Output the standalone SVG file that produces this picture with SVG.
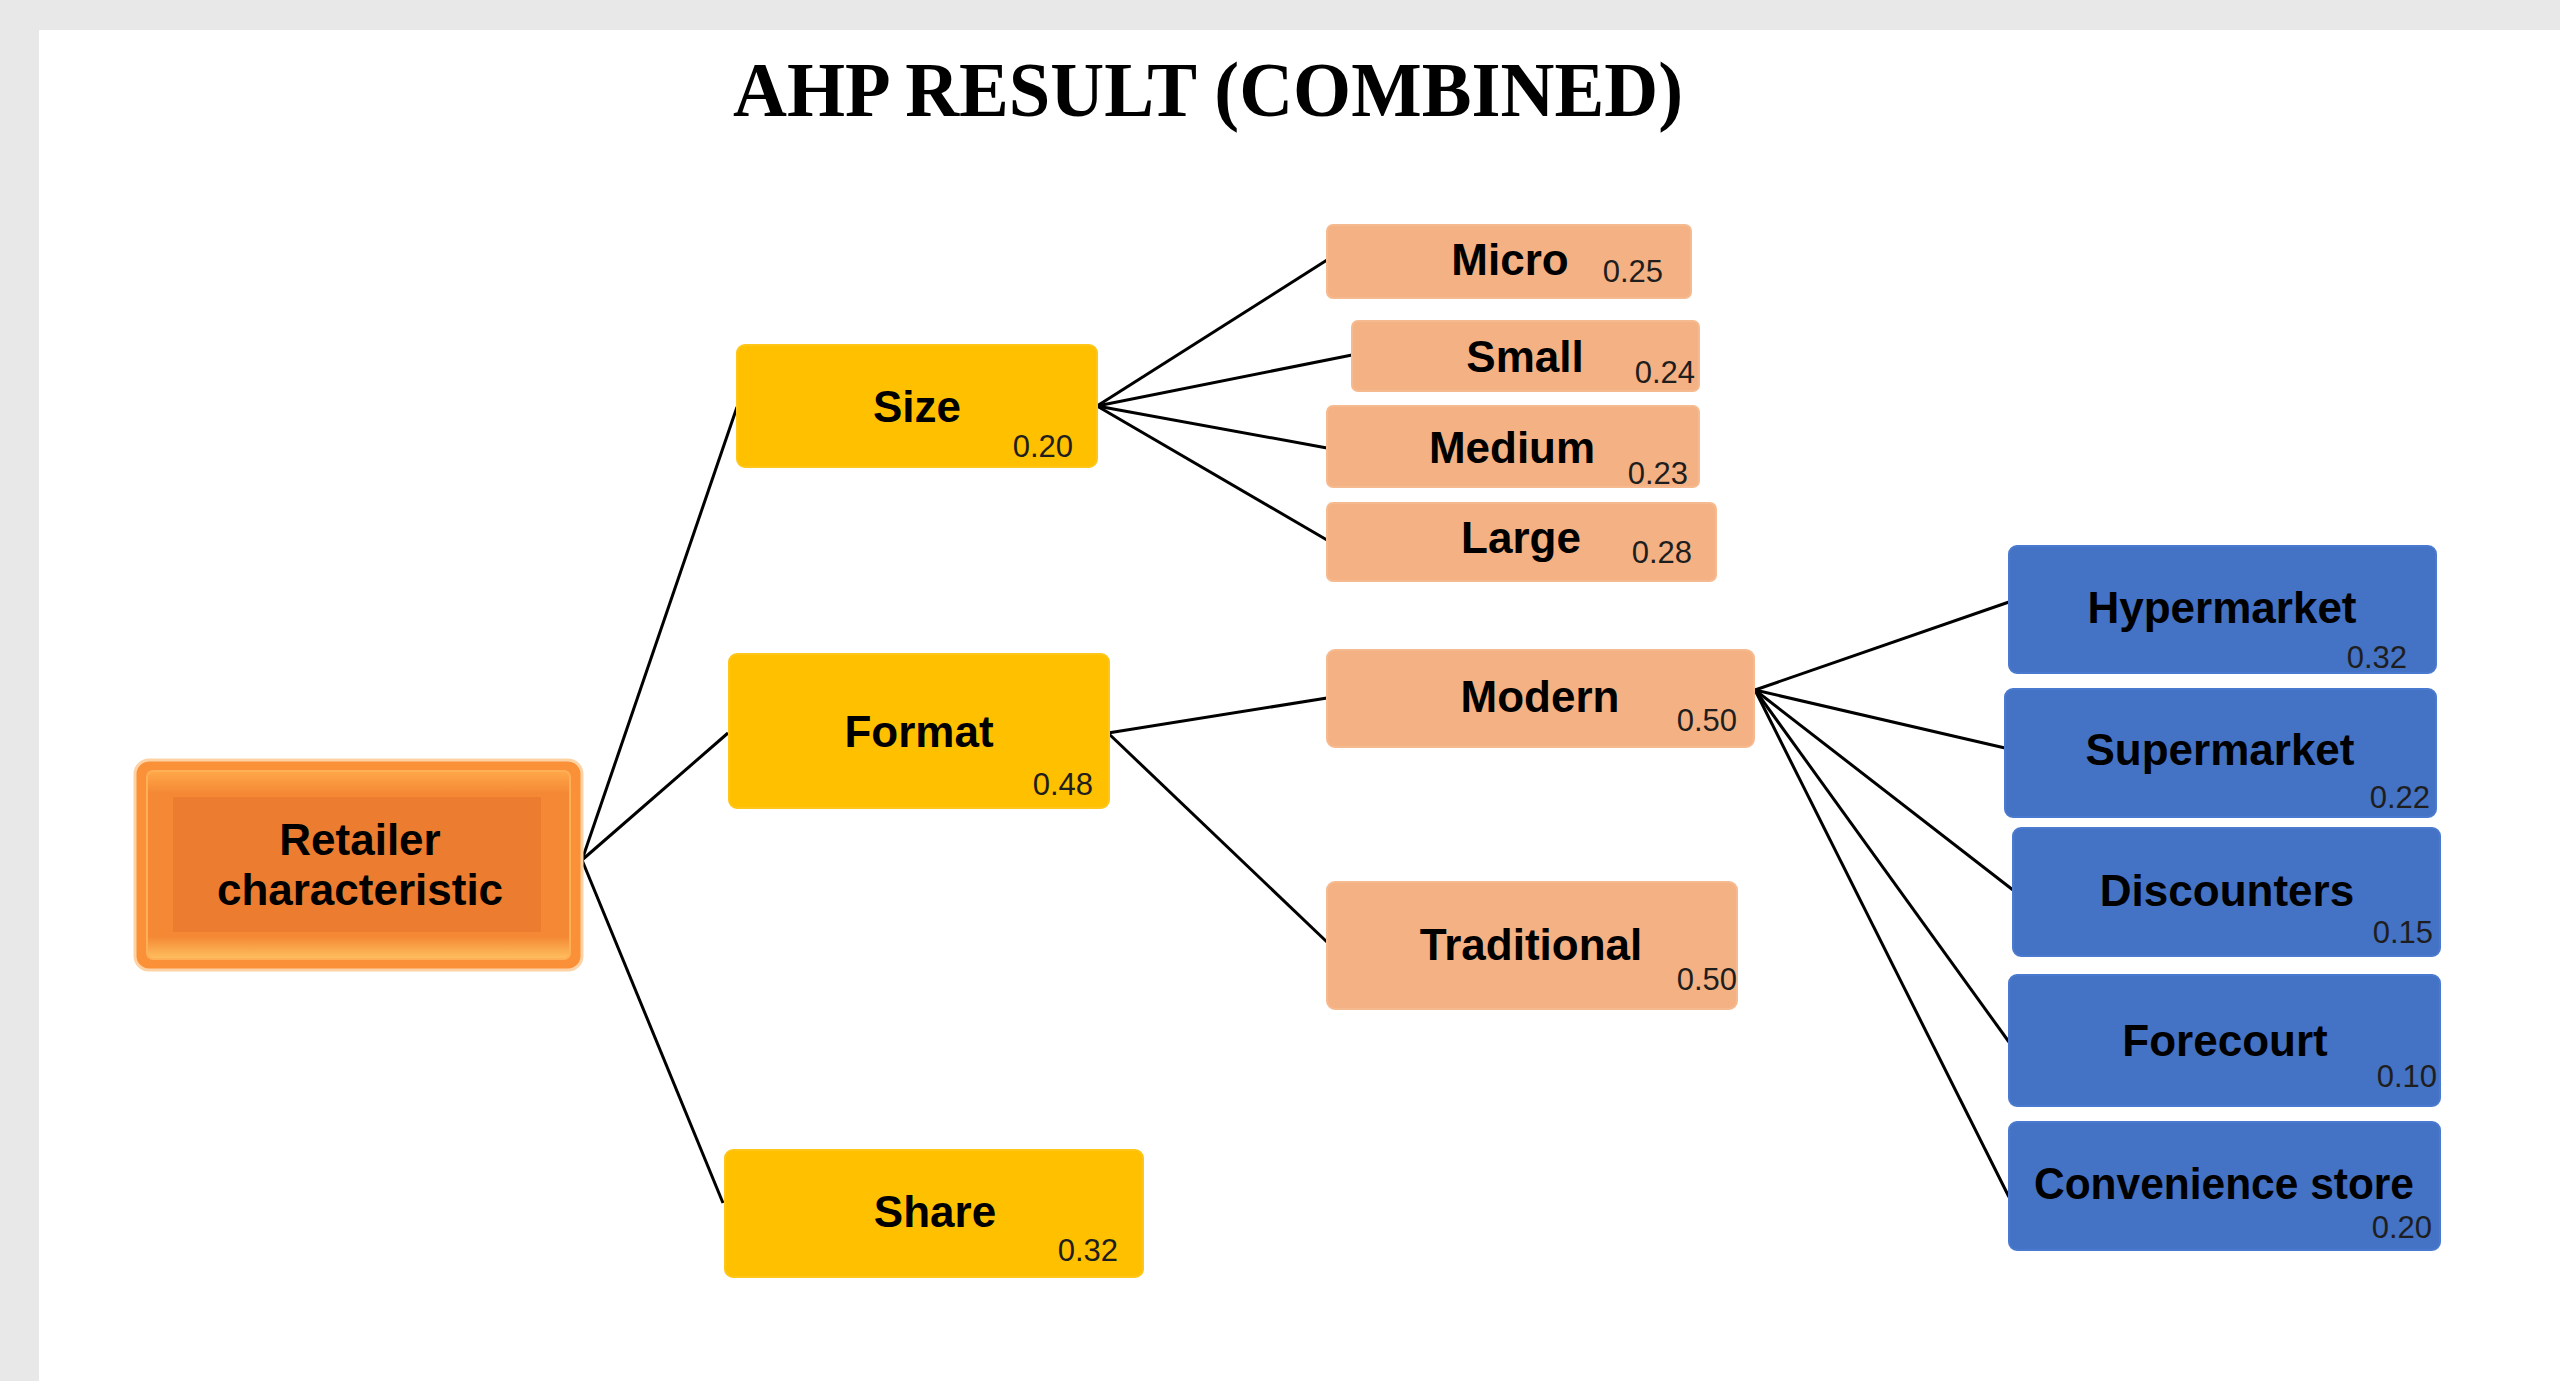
<svg xmlns="http://www.w3.org/2000/svg" width="2560" height="1381" viewBox="0 0 2560 1381">
<defs>
<linearGradient id="bevelV" x1="0" y1="0" x2="0" y2="1">
<stop offset="0" stop-color="#FFA84A"/>
<stop offset="0.12" stop-color="#F48834"/>
<stop offset="0.88" stop-color="#F48834"/>
<stop offset="1" stop-color="#FFC060"/>
</linearGradient>
</defs>
<style>
.lbl{font-family:"Liberation Sans",Arial,sans-serif;font-weight:bold;font-size:44px;fill:#000;text-anchor:middle}
.w{font-family:"Liberation Sans",Arial,sans-serif;font-size:31px;fill:#1e1e1e;text-anchor:end}
.gold{fill:#FFC000;stroke:#FFC61A;stroke-width:2}
.peach{fill:#F4B183;stroke:#F6BA90;stroke-width:2}
.blue{fill:#4472C4;stroke:#4A7AD0;stroke-width:2}
.con line{stroke:#000;stroke-width:3;fill:none}
.title{font-family:"Liberation Serif","Times New Roman",serif;font-weight:bold;font-size:78px;fill:#000}
</style>
<rect x="0" y="0" width="2560" height="1381" fill="#e8e8e8"/>
<rect x="39" y="30" width="2521" height="1351" fill="#ffffff"/>
<text class="title" x="733" y="116" textLength="950" lengthAdjust="spacingAndGlyphs">AHP RESULT (COMBINED)</text>
<g id="connectors" class="con">
<line x1="582" y1="860" x2="737" y2="407"/>
<line x1="582" y1="860" x2="728" y2="733"/>
<line x1="582" y1="860" x2="723" y2="1203"/>
<line x1="1097" y1="406" x2="1327" y2="260"/>
<line x1="1097" y1="406" x2="1352" y2="355"/>
<line x1="1097" y1="406" x2="1327" y2="448"/>
<line x1="1097" y1="406" x2="1327" y2="540"/>
<line x1="1108" y1="733" x2="1327" y2="698"/>
<line x1="1108" y1="733" x2="1327" y2="942"/>
<line x1="1755" y1="690" x2="2009" y2="602"/>
<line x1="1755" y1="690" x2="2005" y2="748"/>
<line x1="1755" y1="690" x2="2013" y2="890"/>
<line x1="1755" y1="690" x2="2009" y2="1042"/>
<line x1="1755" y1="690" x2="2009" y2="1197"/>
</g>
<g id="root">
<rect x="135" y="760" width="447" height="210" rx="14" fill="#FA9038" stroke="#FDD3A5" stroke-width="3"/>
<rect x="147" y="771" width="423" height="188" rx="6" fill="url(#bevelV)" stroke="#FFB057" stroke-width="2"/>
<rect x="173" y="797" width="368" height="135" fill="#EC7C30"/>
<text class="lbl" x="360" y="855">Retailer</text>
<text class="lbl" x="360" y="905">characteristic</text>
</g>
<g id="size">
<rect class="gold" x="737" y="345" width="360" height="122" rx="8"/>
<text class="lbl" x="917" y="422">Size</text>
<text class="w" x="1073" y="457">0.20</text>
</g>
<g id="format">
<rect class="gold" x="729" y="654" width="380" height="154" rx="8"/>
<text class="lbl" x="919" y="747">Format</text>
<text class="w" x="1093" y="795">0.48</text>
</g>
<g id="share">
<rect class="gold" x="725" y="1150" width="418" height="127" rx="8"/>
<text class="lbl" x="935" y="1227">Share</text>
<text class="w" x="1118" y="1261">0.32</text>
</g>
<g id="micro">
<rect class="peach" x="1327" y="225" width="364" height="73" rx="6"/>
<text class="lbl" x="1510" y="275">Micro</text>
<text class="w" x="1663" y="282">0.25</text>
</g>
<g id="small">
<rect class="peach" x="1352" y="321" width="347" height="70" rx="6"/>
<text class="lbl" x="1525" y="372">Small</text>
<text class="w" x="1695" y="383">0.24</text>
</g>
<g id="medium">
<rect class="peach" x="1327" y="406" width="372" height="81" rx="6"/>
<text class="lbl" x="1512" y="463">Medium</text>
<text class="w" x="1688" y="484">0.23</text>
</g>
<g id="large">
<rect class="peach" x="1327" y="503" width="389" height="78" rx="6"/>
<text class="lbl" x="1521" y="553">Large</text>
<text class="w" x="1692" y="563">0.28</text>
</g>
<g id="modern">
<rect class="peach" x="1327" y="650" width="427" height="97" rx="8"/>
<text class="lbl" x="1540" y="712">Modern</text>
<text class="w" x="1737" y="731">0.50</text>
</g>
<g id="traditional">
<rect class="peach" x="1327" y="882" width="410" height="127" rx="8"/>
<text class="lbl" x="1531" y="960">Traditional</text>
<text class="w" x="1737" y="990">0.50</text>
</g>
<g id="hypermarket">
<rect class="blue" x="2009" y="546" width="427" height="127" rx="8"/>
<text class="lbl" x="2222" y="623">Hypermarket</text>
<text class="w" x="2407" y="668">0.32</text>
</g>
<g id="supermarket">
<rect class="blue" x="2005" y="689" width="431" height="128" rx="8"/>
<text class="lbl" x="2220" y="765">Supermarket</text>
<text class="w" x="2430" y="808">0.22</text>
</g>
<g id="discounters">
<rect class="blue" x="2013" y="828" width="427" height="128" rx="8"/>
<text class="lbl" x="2227" y="906">Discounters</text>
<text class="w" x="2433" y="943">0.15</text>
</g>
<g id="forecourt">
<rect class="blue" x="2009" y="975" width="431" height="131" rx="8"/>
<text class="lbl" x="2225" y="1056">Forecourt</text>
<text class="w" x="2437" y="1087">0.10</text>
</g>
<g id="convenience">
<rect class="blue" x="2009" y="1122" width="431" height="128" rx="8"/>
<text class="lbl" x="2224" y="1199" textLength="380" lengthAdjust="spacingAndGlyphs">Convenience store</text>
<text class="w" x="2432" y="1238">0.20</text>
</g>
</svg>
